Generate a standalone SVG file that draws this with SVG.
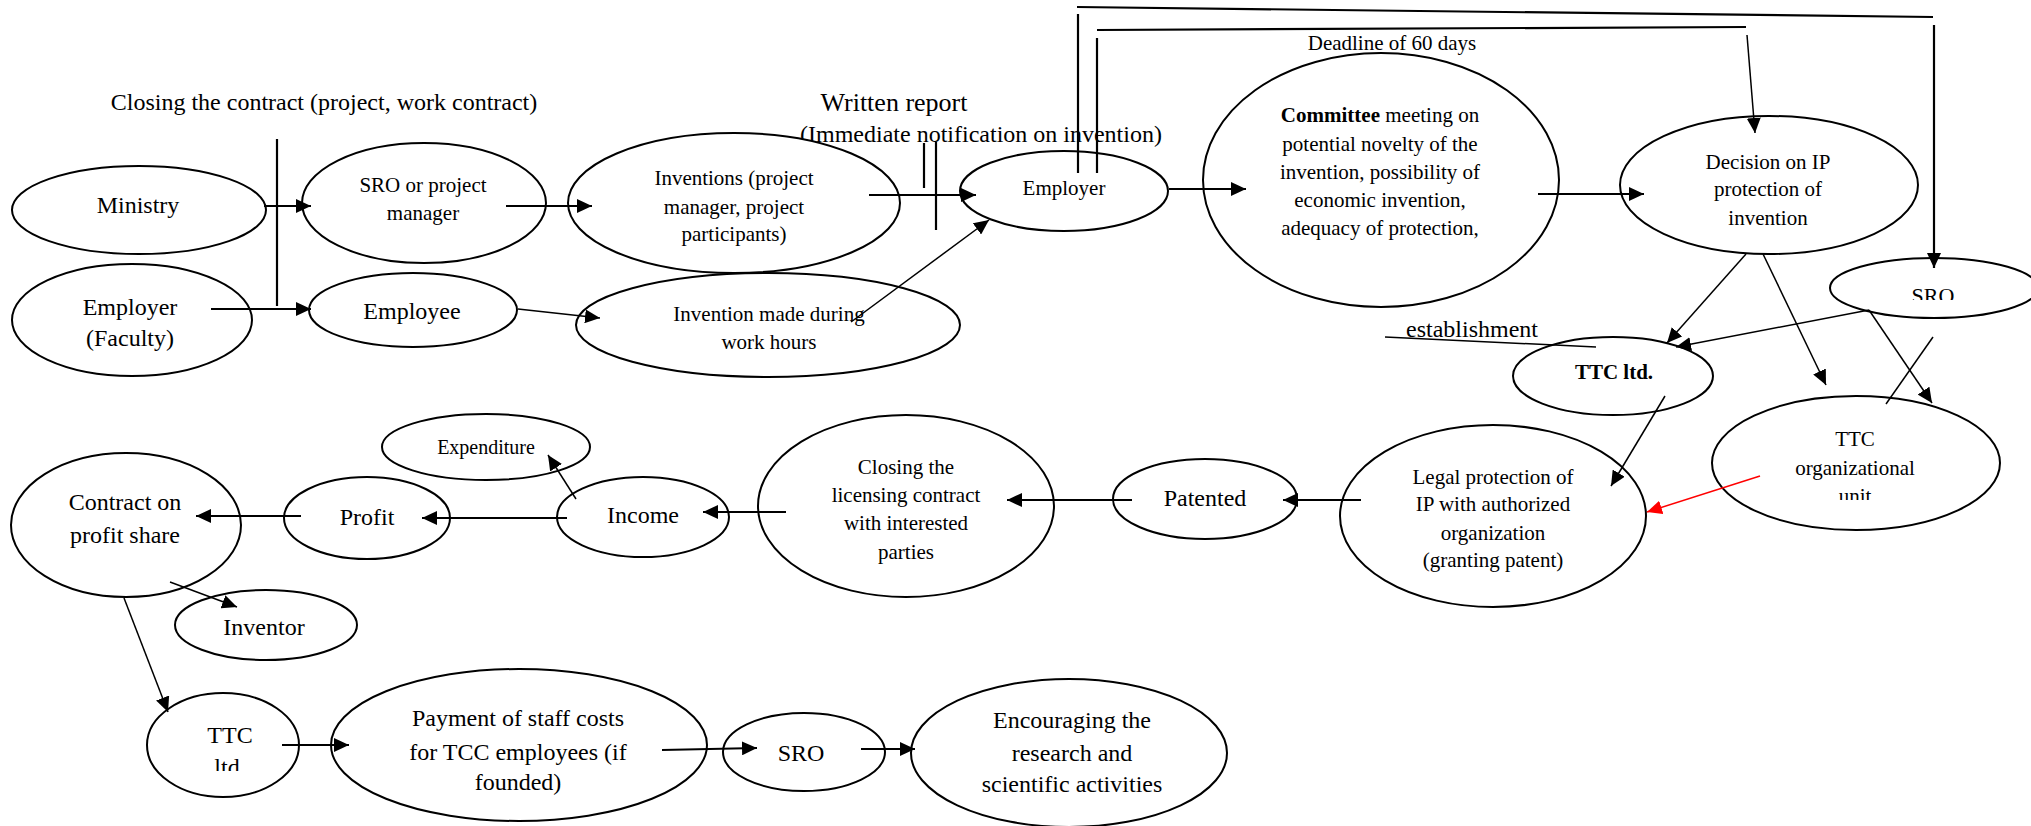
<svg xmlns="http://www.w3.org/2000/svg" width="2031" height="826" viewBox="0 0 2031 826">
<style>
.n{fill:#fff;stroke:#000;stroke-width:2}
.t{font-family:"Liberation Serif","Times New Roman",serif;font-size:21px;fill:#000;text-anchor:middle}
.l{font-size:24px}
.c{stroke:#000;stroke-width:2.2;fill:none}
.th{stroke:#000;stroke-width:1.5;fill:none}
.a{marker-end:url(#ah)}
</style>
<defs>
<marker id="ah" markerUnits="userSpaceOnUse" markerWidth="16" markerHeight="14" refX="15" refY="7" orient="auto"><path d="M0,0 L15,7 L0,14 z" fill="#000"/></marker>
<marker id="ahr" markerUnits="userSpaceOnUse" markerWidth="16" markerHeight="14" refX="15" refY="7" orient="auto"><path d="M0,0 L15,7 L0,14 z" fill="#f00"/></marker>
<clipPath id="clipSro"><rect x="1850" y="270" width="170" height="30"/></clipPath>
<clipPath id="clipOrg"><rect x="1750" y="420" width="220" height="80"/></clipPath>
<clipPath id="clipTtc"><rect x="170" y="715" width="110" height="56"/></clipPath>
</defs>
<rect width="2031" height="826" fill="#fff"/>

<g id="labels">
<text class="t l" x="324" y="110">Closing the contract (project, work contract)</text>
<text class="t" style="font-size:26px" x="894" y="111">Written report</text>
<text class="t l" x="981" y="142">(Immediate notification on invention)</text>
<text class="t" x="1392" y="50">Deadline of 60 days</text>
<text class="t l" x="1472" y="337">establishment</text>
</g>

<g id="n-ministry"><ellipse class="n" cx="139" cy="210" rx="127" ry="44"/><text class="t l" x="138" y="213">Ministry</text></g>
<g id="n-employer-faculty"><ellipse class="n" cx="132" cy="320" rx="120" ry="56"/><text class="t l" x="130" y="315">Employer</text><text class="t l" x="130" y="346">(Faculty)</text></g>
<g id="n-sro-pm"><ellipse class="n" cx="424" cy="203" rx="122" ry="60"/><text class="t" x="423" y="192">SRO or project</text><text class="t" x="423" y="220">manager</text></g>
<g id="n-employee"><ellipse class="n" cx="413" cy="310" rx="104" ry="37"/><text class="t l" x="412" y="319">Employee</text></g>
<g id="n-inventions"><ellipse class="n" cx="734" cy="203" rx="166" ry="70"/><text class="t" x="734" y="185">Inventions (project</text><text class="t" x="734" y="214">manager, project</text><text class="t" x="734" y="241">participants)</text></g>
<g id="n-invention-made"><ellipse class="n" cx="768" cy="325" rx="192" ry="52"/><text class="t" x="769" y="321">Invention made during</text><text class="t" x="769" y="349">work hours</text></g>
<g id="n-employer"><ellipse class="n" cx="1064" cy="191" rx="104" ry="40"/><text class="t" x="1064" y="195">Employer</text></g>
<g id="n-committee"><ellipse class="n" cx="1381" cy="180" rx="178" ry="127"/>
<text class="t" x="1380" y="122"><tspan font-weight="bold">Committee</tspan> meeting on</text>
<text class="t" x="1380" y="151">potential novelty of the</text>
<text class="t" x="1380" y="179">invention, possibility of</text>
<text class="t" x="1380" y="207">economic invention,</text>
<text class="t" x="1380" y="235">adequacy of protection,</text></g>
<g id="n-decision"><ellipse class="n" cx="1769" cy="185" rx="149" ry="69"/><text class="t" x="1768" y="169">Decision on IP</text><text class="t" x="1768" y="196">protection of</text><text class="t" x="1768" y="225">invention</text></g>
<g id="n-sro-right"><ellipse class="n" cx="1934" cy="288" rx="104" ry="30"/><text class="t" style="font-size:22px" x="1933" y="303" clip-path="url(#clipSro)">SRO</text></g>
<g id="n-ttc-ltd"><ellipse class="n" cx="1613" cy="376" rx="100" ry="39"/><text class="t" font-weight="bold" x="1614" y="379">TTC ltd.</text></g>
<g id="n-ttc-org"><ellipse class="n" cx="1856" cy="463" rx="144" ry="67"/><g clip-path="url(#clipOrg)"><text class="t" x="1855" y="446">TTC</text><text class="t" x="1855" y="475">organizational</text><text class="t" x="1855" y="503">unit</text></g></g>
<g id="n-legal"><ellipse class="n" cx="1493" cy="516" rx="153" ry="91"/><text class="t" x="1493" y="484">Legal protection of</text><text class="t" x="1493" y="511">IP with authorized</text><text class="t" x="1493" y="540">organization</text><text class="t" x="1493" y="567">(granting patent)</text></g>
<g id="n-patented"><ellipse class="n" cx="1205" cy="499" rx="92" ry="40"/><text class="t l" x="1205" y="506">Patented</text></g>
<g id="n-licensing"><ellipse class="n" cx="906" cy="506" rx="148" ry="91"/><text class="t" x="906" y="474">Closing the</text><text class="t" x="906" y="502">licensing contract</text><text class="t" x="906" y="530">with interested</text><text class="t" x="906" y="559">parties</text></g>
<g id="n-income"><ellipse class="n" cx="643" cy="517" rx="86" ry="40"/><text class="t l" x="643" y="523">Income</text></g>
<g id="n-expenditure"><ellipse class="n" cx="486" cy="447" rx="104" ry="33"/><text class="t" style="font-size:20px" x="486" y="454">Expenditure</text></g>
<g id="n-profit"><ellipse class="n" cx="367" cy="518" rx="83" ry="41"/><text class="t l" x="367" y="525">Profit</text></g>
<g id="n-contract"><ellipse class="n" cx="126" cy="525" rx="115" ry="72"/><text class="t l" x="125" y="510">Contract on</text><text class="t l" x="125" y="543">profit share</text></g>
<g id="n-inventor"><ellipse class="n" cx="266" cy="625" rx="91" ry="35"/><text class="t l" x="264" y="635">Inventor</text></g>
<g id="n-ttc-bottom"><ellipse class="n" cx="223" cy="745" rx="76" ry="52"/><g clip-path="url(#clipTtc)"><text class="t l" x="230" y="743">TTC</text><text class="t l" x="230" y="775">ltd.</text></g></g>
<g id="n-payment"><ellipse class="n" cx="519" cy="745" rx="188" ry="76"/><text class="t l" x="518" y="726">Payment of staff costs</text><text class="t l" x="518" y="760">for TCC employees (if</text><text class="t l" x="518" y="790">founded)</text></g>
<g id="n-sro-bottom"><ellipse class="n" cx="804" cy="752" rx="81" ry="39"/><text class="t l" x="801" y="761">SRO</text></g>
<g id="n-encouraging"><ellipse class="n" cx="1069" cy="753" rx="158" ry="74"/><text class="t l" x="1072" y="728">Encouraging the</text><text class="t l" x="1072" y="761">research and</text><text class="t l" x="1072" y="792">scientific activities</text></g>

<g id="connectors">
<line class="c" x1="277" y1="139" x2="277" y2="306"/>
<line class="c a" x1="264" y1="206" x2="311" y2="206"/>
<line class="c a" x1="211" y1="309" x2="311" y2="309"/>
<line class="c a" x1="506" y1="206" x2="592" y2="206"/>
<line class="th a" x1="518" y1="309" x2="600" y2="318"/>
<line class="c a" x1="869" y1="195" x2="976" y2="195"/>
<line class="c" x1="924" y1="143" x2="924" y2="188"/>
<line class="c" x1="936" y1="142" x2="936" y2="230"/>
<line class="th a" x1="851" y1="322" x2="989" y2="220"/>
<line class="c a" x1="1169" y1="189" x2="1246" y2="189"/>
<line class="c" x1="1078" y1="173" x2="1078" y2="14"/>
<line class="c" x1="1077" y1="7" x2="1933" y2="17"/>
<line class="c a" x1="1934" y1="25" x2="1934" y2="268"/>
<line class="c" x1="1097" y1="173" x2="1097" y2="38"/>
<line class="c" x1="1097" y1="30" x2="1746" y2="27"/>
<line class="th a" x1="1747" y1="35" x2="1755" y2="133"/>
<line class="c a" x1="1538" y1="194" x2="1644" y2="194"/>
<line class="th a" x1="1746" y1="254" x2="1667" y2="343"/>
<line class="th a" x1="1763" y1="254" x2="1826" y2="385"/>
<line class="th a" x1="1869" y1="310" x2="1676" y2="347"/>
<line class="th a" x1="1869" y1="310" x2="1932" y2="403"/>
<line class="th" x1="1933" y1="337" x2="1886" y2="404"/>
<line class="th" x1="1385" y1="337" x2="1596" y2="347"/>
<line class="th a" x1="1665" y1="396" x2="1611" y2="486"/>
<line stroke="#f00" stroke-width="1.5" marker-end="url(#ahr)" x1="1760" y1="476" x2="1647" y2="512"/>
<line class="c a" x1="1361" y1="500" x2="1283" y2="500"/>
<line class="c a" x1="1132" y1="500" x2="1007" y2="500"/>
<line class="c a" x1="786" y1="512" x2="703" y2="512"/>
<line class="c a" x1="567" y1="518" x2="422" y2="518"/>
<line class="c a" x1="301" y1="516" x2="196" y2="516"/>
<line class="th a" x1="576" y1="499" x2="548" y2="455"/>
<line class="th a" x1="170" y1="582" x2="237" y2="607"/>
<line class="th a" x1="124" y1="598" x2="168" y2="712"/>
<line class="c a" x1="282" y1="745" x2="349" y2="745"/>
<line class="c a" x1="662" y1="750" x2="757" y2="748"/>
<line class="c a" x1="861" y1="749" x2="915" y2="749"/>
</g>
</svg>
